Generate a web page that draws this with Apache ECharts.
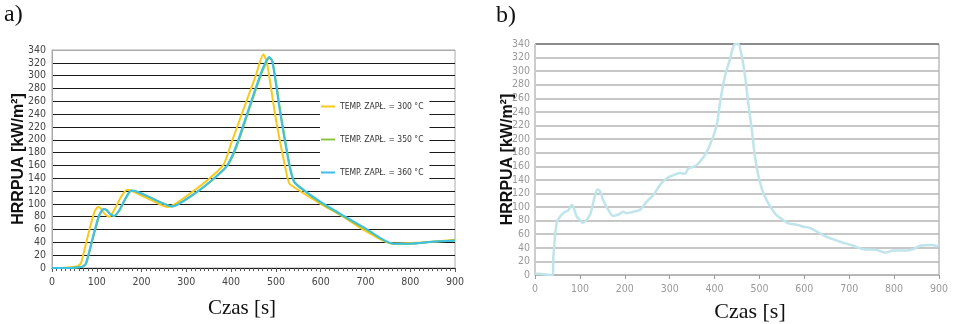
<!DOCTYPE html>
<html>
<head>
<meta charset="utf-8">
<script src="https://cdn.jsdelivr.net/npm/echarts@6/dist/echarts.min.js"></script>
<style>
  html, body { margin: 0; padding: 0; background: #fff; }
  #chart { width: 953px; height: 324px; }
</style>
</head>
<body>
<div id="chart"></div>
<script>
// wykres a) - trzy temperatury zapłonu
const seriesNamesA = ['TEMP. ZAPŁ. = 300 °C', 'TEMP. ZAPŁ. = 350 °C', 'TEMP. ZAPŁ. = 360 °C'];

const time300 = [0, 20, 40, 50, 58, 65, 80, 95, 103, 110, 118, 128, 140, 155, 168, 175, 200, 230, 258, 270, 300, 340, 382, 400, 430, 455, 472, 480, 500, 520, 530, 545, 600, 650, 700, 760, 800, 850, 900];
const hrr300 = [0, 0, 1, 2, 3, 8, 50, 88, 95, 92, 84, 80, 92, 112, 122, 121, 113, 103, 95, 98, 112, 133, 160, 194, 252, 300, 333, 320, 232, 160, 132, 124, 100, 80, 58, 38, 39, 41, 44];

const time350 = [0, 20, 40, 60, 71, 77, 91, 106, 116, 123, 131, 139, 151, 166, 178, 186, 211, 241, 269, 281, 311, 351, 391, 411, 441, 471, 486, 493, 511, 531, 541, 556, 600, 650, 700, 762, 800, 850, 900];
const hrr350 = [0, 0, 0, 1, 3, 8, 45, 82, 92, 90, 84, 81, 90, 110, 121, 120, 113, 103, 96, 99, 112, 133, 159, 187, 249, 309, 328, 321, 240, 160, 135, 125, 102, 81, 61, 38, 38, 41, 43];

const time360 = [0, 20, 40, 60, 70, 76, 90, 105, 115, 122, 130, 138, 150, 165, 177, 185, 210, 240, 268, 280, 310, 350, 390, 410, 440, 470, 485, 492, 510, 530, 540, 555, 600, 650, 700, 762, 800, 850, 900];
const hrr360 = [0, 0, 0, 1, 3, 8, 45, 82, 92, 90, 84, 81, 90, 110, 121, 120, 113, 103, 96, 99, 112, 133, 159, 188, 250, 310, 329, 322, 240, 160, 135, 125, 103, 82, 62, 38, 38, 41, 43];

// wykres b) - jedna krzywa
const timeB = [0, 4, 20, 33, 40, 41, 48, 56, 67, 74, 82, 85, 93, 100, 106, 115, 124, 131, 139, 145, 152, 163, 174, 186, 197, 204, 219, 234, 249, 264, 279, 293, 308, 323, 334, 342, 356, 368, 383, 397, 405, 412, 423, 434, 442, 446, 453, 460, 468, 475, 483, 490, 498, 509, 524, 538, 553, 564, 583, 598, 609, 628, 650, 680, 709, 731, 761, 780, 798, 828, 843, 858, 880, 899];
const hrrB = [2, 2, 1, 0, 0, 27, 76, 86, 93, 95, 103, 101, 86, 81, 77, 81, 91, 110, 126, 123, 110, 96, 87, 89, 93, 91, 93, 96, 108, 118, 133, 142, 147, 150, 149, 157, 160, 167, 182, 204, 221, 253, 292, 317, 337, 340, 340, 324, 292, 253, 214, 174, 145, 120, 101, 88, 81, 76, 74, 71, 70, 64, 56, 49, 43, 38, 37, 33, 36, 36, 38, 43, 44, 42];

const yTicks = 340;
const xTicks = 900;

const zip = (xs, ys) => xs.map((x, i) => [x, ys[i]]);

const narrow = "'Liberation Sans Narrow', 'DejaVu Sans Condensed', 'Arial Narrow', sans-serif";

// linie siatki: czarne, najwyższa szara
const gridColorsA = [];
for (let v = 0; v <= yTicks; v += 20) gridColorsA.push(v === yTicks ? '#aaaaaa' : '#1a1a1a');
const gridColorsB = [];
for (let v = 0; v <= yTicks; v += 20) gridColorsB.push(v === yTicks ? '#777777' : '#b5b5b5');

const option = {
  backgroundColor: '#fff',
  animation: false,
  grid: [
    { left: 52, right: 498, top: 50, bottom: 56, show: true, borderColor: '#aaaaaa', borderWidth: 1, backgroundColor: 'transparent' },
    { left: 535, right: 14, top: 44, bottom: 49, show: true, borderColor: '#999999', borderWidth: 1, backgroundColor: 'transparent' }
  ],
  legend: {
    data: seriesNamesA,
    orient: 'vertical',
    left: 320,
    top: 96,
    padding: [6, 6, 6, 1],
    itemGap: 24,
    itemWidth: 14,
    itemHeight: 2,
    icon: 'rect',
    backgroundColor: '#fff',
    textStyle: { fontFamily: narrow, fontSize: 8.5, color: '#333' },
    selectedMode: false
  },
  xAxis: [
    {
      gridIndex: 0, type: 'value', min: 0, max: xTicks, interval: 100,
      axisLine: { show: true, lineStyle: { color: '#1a1a1a', width: 1 } },
      axisTick: { show: true, length: 4, lineStyle: { color: '#555' } },
      minorTick: { show: true, splitNumber: 10, length: 3, lineStyle: { color: '#555' } },
      splitLine: { show: false },
      axisLabel: { fontFamily: narrow, fontSize: 10.5, color: '#444', margin: 9 }
    },
    {
      gridIndex: 1, type: 'value', min: 0, max: xTicks, interval: 100,
      axisLine: { show: true, lineStyle: { color: '#b5b5b5', width: 1 } },
      axisTick: { show: true, length: 4, lineStyle: { color: '#999' } },
      splitLine: { show: false },
      axisLabel: { fontFamily: narrow, fontSize: 10.5, color: '#999', margin: 9 }
    }
  ],
  yAxis: [
    {
      gridIndex: 0, type: 'value', min: 0, max: yTicks, interval: 20,
      name: 'HRRPUA [kW/m²]', nameLocation: 'middle', nameGap: 25, nameMoveOverlap: false,
      nameTextStyle: { fontFamily: "'Liberation Sans', Arial, sans-serif", fontWeight: 'bold', fontSize: 16, color: '#111' },
      axisLine: { show: true, lineStyle: { color: '#aaaaaa' } },
      axisTick: { show: false },
      splitLine: { show: true, lineStyle: { color: gridColorsA, width: 1 } },
      axisLabel: { fontFamily: narrow, fontSize: 10.5, color: '#444', margin: 6 }
    },
    {
      gridIndex: 1, type: 'value', min: 0, max: yTicks, interval: 20,
      name: 'HRRPUA [kW/m²]', nameLocation: 'middle', nameGap: 19, nameMoveOverlap: false,
      nameTextStyle: { fontFamily: "'Liberation Sans', Arial, sans-serif", fontWeight: 'bold', fontSize: 16, color: '#111' },
      axisLine: { show: true, lineStyle: { color: '#cccccc' } },
      axisTick: { show: false },
      splitLine: { show: true, lineStyle: { color: gridColorsB, width: 1.5 } },
      axisLabel: { fontFamily: narrow, fontSize: 10.5, color: '#999', margin: 5 }
    }
  ],
  graphic: [
    { type: 'text', left: 4, top: 3, style: { text: 'a)', font: "24px 'Liberation Serif', serif", fill: '#111' } },
    { type: 'text', left: 496, top: 4, style: { text: 'b)', font: "24px 'Liberation Serif', serif", fill: '#111' } },
    { type: 'text', x: 242, y: 298, style: { text: 'Czas [s]', font: "21px 'Liberation Serif', serif", fill: '#111', align: 'center' } },
    { type: 'text', x: 750, y: 301, style: { text: 'Czas [s]', font: "22px 'Liberation Serif', serif", fill: '#111', align: 'center' } }
  ],
  series: [
    {
      name: seriesNamesA[0], type: 'line', xAxisIndex: 0, yAxisIndex: 0,
      showSymbol: false, smooth: 0.25, color: '#f7c918',
      lineStyle: { width: 2 }, data: zip(time300, hrr300)
    },
    {
      name: seriesNamesA[1], type: 'line', xAxisIndex: 0, yAxisIndex: 0,
      showSymbol: false, smooth: 0.25, color: '#8cc63f',
      lineStyle: { width: 2 }, data: zip(time350, hrr350)
    },
    {
      name: seriesNamesA[2], type: 'line', xAxisIndex: 0, yAxisIndex: 0,
      showSymbol: false, smooth: 0.25, color: '#3cc0e6',
      lineStyle: { width: 2 }, data: zip(time360, hrr360)
    },
    {
      name: 'HRRPUA', type: 'line', xAxisIndex: 1, yAxisIndex: 1,
      showSymbol: false, smooth: 0.3, color: '#bfe4ea',
      lineStyle: { width: 2.5 }, data: zip(timeB, hrrB)
    }
  ]
};

const chart = echarts.init(document.getElementById('chart'));
chart.setOption(option);
</script>
</body>
</html>
